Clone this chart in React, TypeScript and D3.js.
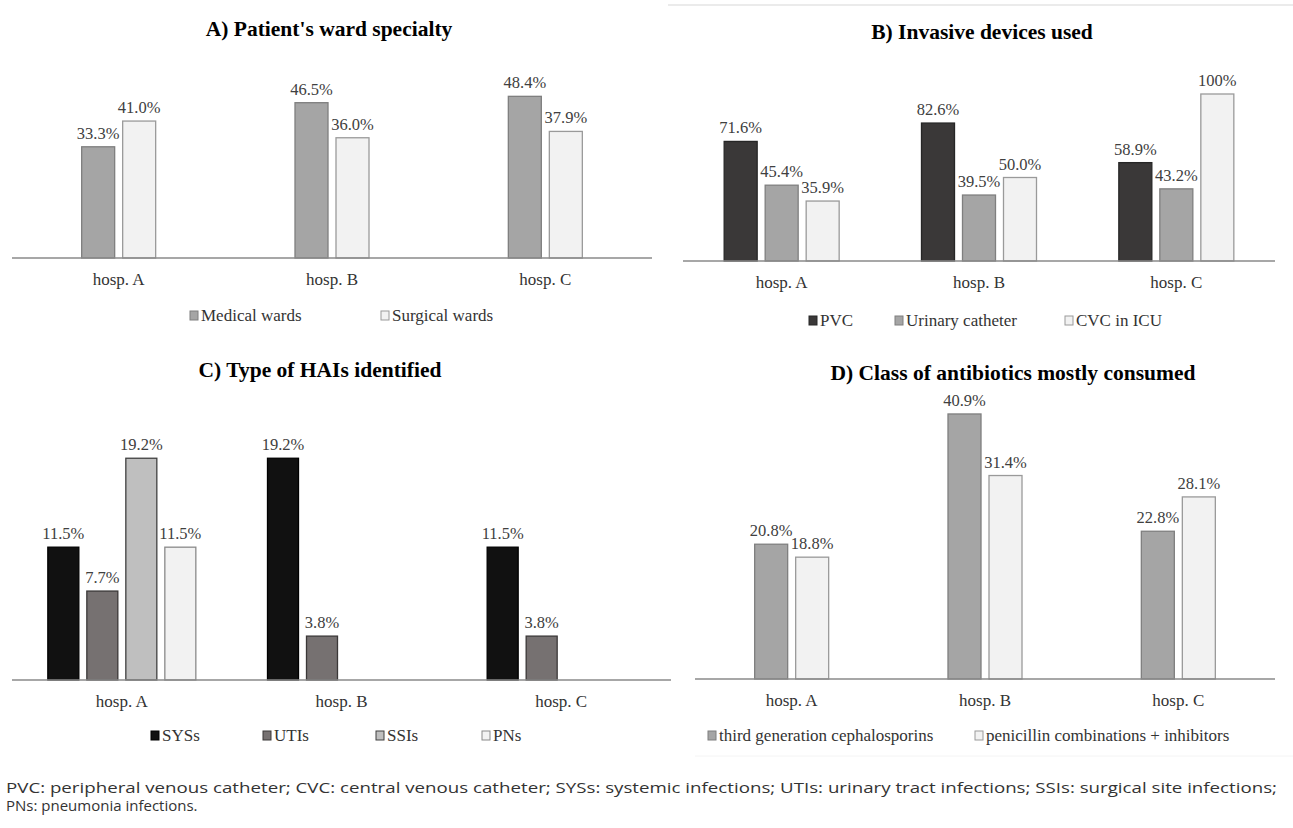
import React from 'react';
import { scaleBand, scaleLinear } from 'd3';

// hospitals on the x axis of every panel
const hospitals = ['hosp. A', 'hosp. B', 'hosp. C'];

// A) ward specialty
const wardSeries = ['Medical wards', 'Surgical wards'];
const medicalWards = [33.3, 46.5, 48.4];
const surgicalWards = [41.0, 36.0, 37.9];

// B) invasive devices
const deviceSeries = ['PVC', 'Urinary catheter', 'CVC in ICU'];
const pvc = [71.6, 82.6, 58.9];
const urinaryCatheter = [45.4, 39.5, 43.2];
const cvcInIcu = [35.9, 50.0, 100];

// C) HAIs
const haiSeries = ['SYSs', 'UTIs', 'SSIs', 'PNs'];
const sys = [11.5, 19.2, 11.5];
const uti = [7.7, 3.8, 3.8];
const ssi = [19.2, 0, 0];
const pn = [11.5, 0, 0];

// D) antibiotics
const abxSeries = ['third generation cephalosporins', 'penicillin combinations + inhibitors'];
const thirdGen = [20.8, 40.9, 22.8];
const penicillin = [18.8, 31.4, 28.1];

const footnote1 = 'PVC: peripheral venous catheter; CVC: central venous catheter; SYSs: systemic infections; UTIs: urinary tract infections; SSIs: surgical site infections;';
const footnote2 = 'PNs: pneumonia infections.';

const serif = '"Liberation Serif", "Times New Roman", serif';

const fmt = (v) => (v === 100 ? '100%' : v.toFixed(1) + '%');

const Panel = ({ title, titleX, titleY, x0, x1, baseY, yMax, yTopPx, series, values, fills, strokes, bw, gap, legendXs, legendY }) => {
    const x = scaleBand().domain(hospitals).range([x0, x1]);
    const y = scaleLinear().domain([0, yMax]).range([baseY, yTopPx]);
    const n = series.length;
    const W = n * bw + (n - 1) * gap;
    const inner = scaleBand().domain(series).range([-W / 2, W / 2]).paddingInner(gap / (bw + gap));

    return (
        <g>
            <text x={titleX} y={titleY} textAnchor="middle" fontFamily={serif} fontWeight="bold" fontSize={21.5} fill="#000">{title}</text>
            {hospitals.map((h, i) => {
                const cx = x(h) + x.bandwidth() / 2;
                return (
                    <g key={h}>
                        {series.map((s, j) => {
                            const v = values[j][i];
                            if (!v) return null;
                            const bx = cx + inner(s);
                            return (
                                <g key={s}>
                                    <rect x={bx} y={y(v)} width={inner.bandwidth()} height={baseY - y(v)}
                                        fill={fills[j]} stroke={strokes[j]} strokeWidth={1.3} />
                                    <text x={bx + inner.bandwidth() / 2} y={y(v) - 8} textAnchor="middle"
                                        fontFamily={serif} fontSize={16.5} fill="#404040">{fmt(v)}</text>
                                </g>
                            );
                        })}
                        <text x={cx} y={baseY + 27} textAnchor="middle" fontFamily={serif} fontSize={17} fill="#333">{h}</text>
                    </g>
                );
            })}
            <line x1={x0} x2={x1} y1={baseY} y2={baseY} stroke="#8a8a8a" strokeWidth={1.6} />
            {series.map((s, j) => (
                <g key={s} transform={`translate(${legendXs[j]}, ${legendY})`}>
                    <rect x={0} y={-10} width={8} height={9} fill={fills[j]} stroke={strokes[j]} strokeWidth={1} />
                    <text x={11} y={0} fontFamily={serif} fontSize={17} fill="#333">{s}</text>
                </g>
            ))}
        </g>
    );
};

const App = () => {
    return (
        <div style={{ position: 'absolute', left: 0, top: 0 }}>
            <svg width={1293} height={828} style={{ display: 'block', background: '#fff' }}>
                <line x1={668} x2={1293} y1={5} y2={5} stroke="#e4e4e4" strokeWidth={1.5} />
                <line x1={695} x2={1293} y1={756} y2={756} stroke="#f4f4f4" strokeWidth={1} />
                <Panel title="A) Patient's ward specialty" titleX={329} titleY={36}
                    x0={12} x1={652} baseY={258} yMax={50} yTopPx={91}
                    series={wardSeries} values={[medicalWards, surgicalWards]}
                    fills={['#a5a5a5', '#f2f2f2']} strokes={['#7f7f7f', '#9a9a9a']}
                    bw={33} gap={8} legendXs={[190, 381]} legendY={321} />
                <Panel title="B) Invasive devices used" titleX={982} titleY={39}
                    x0={683} x1={1275} baseY={261} yMax={100} yTopPx={94}
                    series={deviceSeries} values={[pvc, urinaryCatheter, cvcInIcu]}
                    fills={['#3a3838', '#a5a5a5', '#f2f2f2']} strokes={['#262626', '#7f7f7f', '#9a9a9a']}
                    bw={33} gap={8} legendXs={[809, 895, 1065]} legendY={326} />
                <Panel title="C) Type of HAIs identified" titleX={320} titleY={377}
                    x0={12} x1={671} baseY={680} yMax={20} yTopPx={449}
                    series={haiSeries} values={[sys, uti, ssi, pn]}
                    fills={['#111111', '#767171', '#bfbfbf', '#f2f2f2']} strokes={['#000000', '#3b3838', '#404040', '#8a8a8a']}
                    bw={31} gap={8} legendXs={[151, 263, 376, 482]} legendY={741} />
                <Panel title="D) Class of antibiotics mostly consumed" titleX={1013} titleY={380}
                    x0={695} x1={1275} baseY={679} yMax={50} yTopPx={355}
                    series={abxSeries} values={[thirdGen, penicillin]}
                    fills={['#a5a5a5', '#f2f2f2']} strokes={['#7f7f7f', '#9a9a9a']}
                    bw={33} gap={8} legendXs={[708, 975]} legendY={741} />
                <text x={6} y={793} fontFamily='"Open Sans", sans-serif' fontSize={15} fill="#333"
                    textLength={1271} lengthAdjust="spacingAndGlyphs">{footnote1}</text>
                <text x={6} y={811} fontFamily='"Open Sans", sans-serif' fontSize={15} fill="#333">{footnote2}</text>
            </svg>
        </div>
    );
};

export default App;
